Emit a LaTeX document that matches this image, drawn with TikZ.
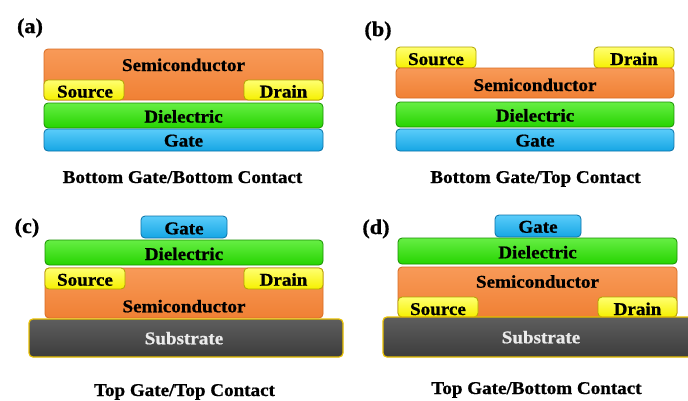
\documentclass[tikz,border=0pt]{standalone}
\usepackage{fontspec}
\setmainfont{Liberation Serif}[FakeStretch=1.06, BoldFeatures={FakeBold=0.8}]
\definecolor{orA}{HTML}{F5873A}
\definecolor{orL}{HTML}{F89A58}
\definecolor{orB}{HTML}{F08034}
\definecolor{orD}{HTML}{D86C22}
\definecolor{yeA}{HTML}{FFFF00}
\definecolor{yeL}{HTML}{FFFF70}
\definecolor{yeB}{HTML}{F6F000}
\definecolor{yeD}{HTML}{B0A400}
\definecolor{grA}{HTML}{2EE000}
\definecolor{grL}{HTML}{66EE44}
\definecolor{grB}{HTML}{26D400}
\definecolor{grD}{HTML}{189000}
\definecolor{blA}{HTML}{1CB4F0}
\definecolor{blL}{HTML}{5ACCFA}
\definecolor{blB}{HTML}{16A6E4}
\definecolor{blD}{HTML}{0A72A8}
\definecolor{sbA}{HTML}{464646}
\definecolor{sbL}{HTML}{5E5E5E}
\definecolor{sbB}{HTML}{3C3C3C}
\definecolor{sbD}{HTML}{E8C000}
\tikzset{
  lay/.style={draw, rounded corners=4pt, line width=0.8pt, inner sep=0pt, outer sep=0pt},
  semi/.style={lay, draw=orD, top color=orL, middle color=orA, bottom color=orB},
  contact/.style={lay, draw=yeD, top color=yeL, middle color=yeA, bottom color=yeB},
  diel/.style={lay, draw=grD, top color=grL, middle color=grA, bottom color=grB},
  gatelayer/.style={lay, draw=blD, top color=blL, middle color=blA, bottom color=blB},
  subs/.style={lay, draw=sbD, line width=1.2pt, top color=sbL, middle color=sbA, bottom color=sbB},
  txt/.style={font=\bfseries\fontsize{18}{20}\selectfont, inner sep=0pt, anchor=base, text=black},
  wtxt/.style={txt, text=white!92!black},
  captxt/.style={font=\bfseries\fontsize{18}{20}\selectfont, inner sep=0pt, anchor=base, text=black},
  plabel/.style={font=\bfseries\fontsize{21}{23}\selectfont, inner sep=0pt, anchor=base, text=black}
}
\begin{document}
\begin{tikzpicture}[x=1pt,y=-1pt]
\useasboundingbox[fill=white] (0,0) rectangle (688,400);
% ---------------- (a)
\node[plabel] (la) at (30,33) {(a)};
\node[semi, minimum width=279pt, minimum height=51pt] (sa) at (183.5,74.5) {};
\node[contact, minimum width=80pt, minimum height=20pt] (srca) at (84,90) {};
\node[contact, minimum width=79pt, minimum height=20pt] (dra) at (283.5,90) {};
\node[diel, minimum width=279pt, minimum height=25pt] (diela) at (183.5,115.5) {};
\node[gatelayer, minimum width=279pt, minimum height=22pt] (gatea) at (183.5,140) {};
\node[txt] (tsa) at (183.5,71) {Semiconductor};
\node[txt] (tsrca) at (85,97.5) {Source};
\node[txt] (tdra) at (283.5,97.5) {Drain};
\node[txt] (tdiela) at (183.5,122.5) {Dielectric};
\node[txt] (tgatea) at (183.5,146.5) {Gate};
\node[captxt] (ca) at (182.5,183) {Bottom Gate/Bottom Contact};
% ---------------- (b)
\node[plabel] (lb) at (378,36) {(b)};
\node[contact, minimum width=80pt, minimum height=21pt] (srcb) at (436,57.5) {};
\node[contact, minimum width=80pt, minimum height=21pt] (drb) at (634,57.5) {};
\node[semi, minimum width=278pt, minimum height=30pt] (sb) at (535,83) {};
\node[diel, minimum width=278pt, minimum height=25pt] (dielb) at (535,114.5) {};
\node[gatelayer, minimum width=278pt, minimum height=22pt] (gateb) at (535,140) {};
\node[txt] (tsrcb) at (436,65) {Source};
\node[txt] (tdrb) at (634,65) {Drain};
\node[txt] (tsb) at (535,91) {Semiconductor};
\node[txt] (tdielb) at (535,121.5) {Dielectric};
\node[txt] (tgateb) at (535,146.5) {Gate};
\node[captxt] (cb) at (535.5,183) {Bottom Gate/Top Contact};
% ---------------- (c)
\node[plabel] (lc) at (27,233) {(c)};
\node[gatelayer, minimum width=86pt, minimum height=22pt] (gatec) at (184,227) {};
\node[diel, minimum width=278pt, minimum height=25pt] (dielc) at (184,252.5) {};
\node[semi, minimum width=278pt, minimum height=50pt] (sc) at (184,293) {};
\node[contact, minimum width=80pt, minimum height=21pt] (srcc) at (85,278.5) {};
\node[contact, minimum width=79pt, minimum height=21pt] (drc) at (283.5,278.5) {};
\node[subs, minimum width=314pt, minimum height=38pt] (subc) at (186,338) {};
\node[txt] (tgatec) at (184,234.3) {Gate};
\node[txt] (tdielc) at (184,260) {Dielectric};
\node[txt] (tsrcc) at (85,285.7) {Source};
\node[txt] (tdrc) at (283.5,285.7) {Drain};
\node[txt] (tsc) at (184,312.3) {Semiconductor};
\node[wtxt] (tsubc) at (184,344.3) {Substrate};
\node[captxt] (cc) at (184.5,396) {Top Gate/Top Contact};
% ---------------- (d)
\node[plabel] (ld) at (376,234) {(d)};
\node[gatelayer, minimum width=86pt, minimum height=22pt] (gated) at (538,226) {};
\node[diel, minimum width=279pt, minimum height=26pt] (dield) at (537.5,251) {};
\node[semi, minimum width=279pt, minimum height=50pt] (sd) at (537.5,292) {};
\node[contact, minimum width=80pt, minimum height=20pt] (srcd) at (438,307) {};
\node[contact, minimum width=79pt, minimum height=20pt] (drd) at (637.5,307) {};
\node[subs, minimum width=317pt, minimum height=40pt] (subd) at (541.5,337) {};
\node[txt] (tgated) at (538,232.7) {Gate};
\node[txt] (tdield) at (537.5,258.3) {Dielectric};
\node[txt] (tsd) at (537.5,287.7) {Semiconductor};
\node[txt] (tsrcd) at (438,315) {Source};
\node[txt] (tdrd) at (637.5,315) {Drain};
\node[wtxt] (tsubd) at (541,343.3) {Substrate};
\node[captxt] (cd) at (536.5,394) {Top Gate/Bottom Contact};
\end{tikzpicture}
\end{document}
